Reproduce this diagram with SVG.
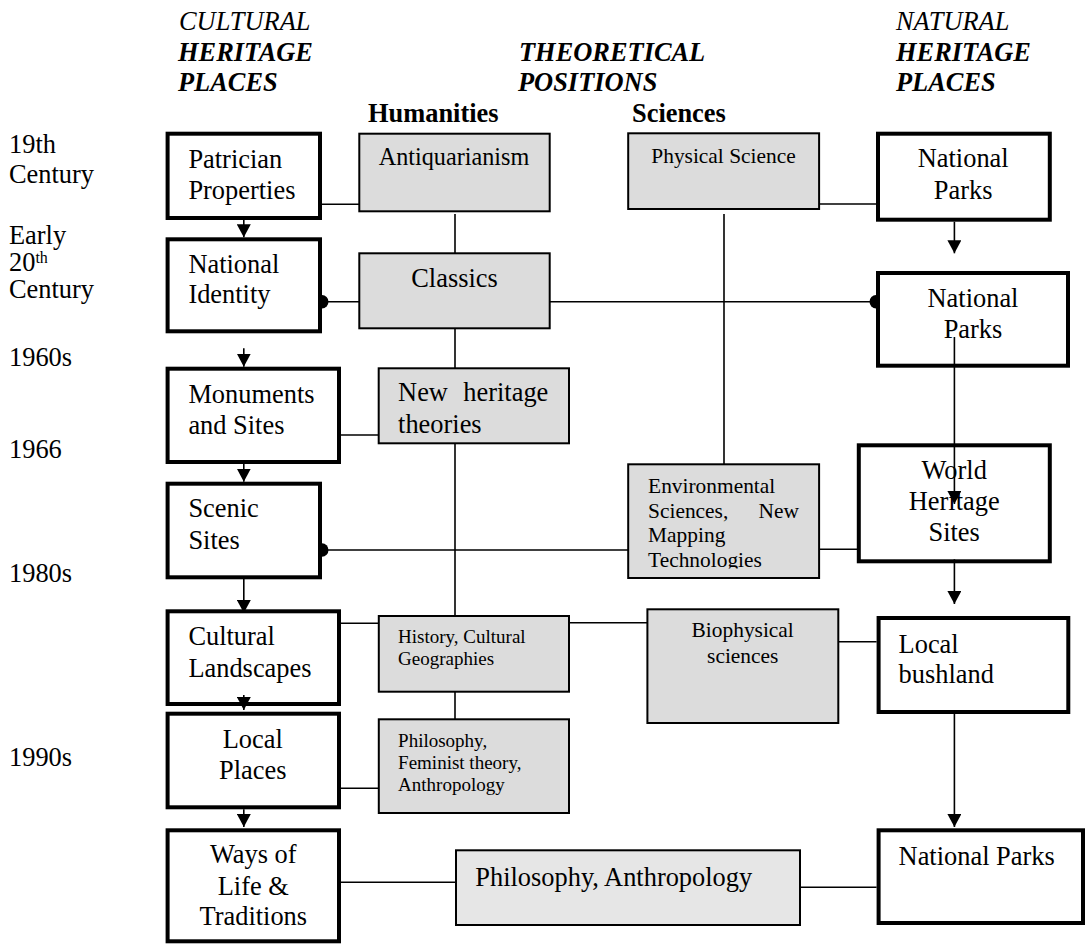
<svg xmlns="http://www.w3.org/2000/svg" width="1087" height="945" viewBox="0 0 1087 945">
<style>
text{font-family:"Liberation Serif","Times New Roman",serif;fill:#000}
.t{font-size:26.4px}
.m{font-size:24.2px}
.s{font-size:21.4px}
.xs{font-size:19px}
.hi{font-size:26.4px;font-style:italic}
.hb{font-size:26.4px;font-style:italic;font-weight:bold}
.b{font-size:26.4px;font-weight:bold}
.c{text-anchor:middle}
.e{text-anchor:end}
.pl{fill:#fff;stroke:#000;stroke-width:4}
.th{fill:#dcdcdc;stroke:#000;stroke-width:2}
.th2{fill:#e6e6e6;stroke:#000;stroke-width:2}
.ln{stroke:#000;stroke-width:1.6;fill:none}
.ar{stroke:#000;stroke-width:1.6;fill:none;marker-end:url(#ah)}
</style>
<defs>
<marker id="ah" markerWidth="14" markerHeight="14" refX="13" refY="7" orient="auto" markerUnits="userSpaceOnUse">
<path d="M0,0 L13,7 L0,14 Z" fill="#000"/>
</marker>
<clipPath id="envclip"><rect x="628" y="464" width="192" height="104.5"/></clipPath>
</defs>

<g id="headers">
<text class="hi" x="179" y="30">CULTURAL</text>
<text class="hb" x="178" y="61">HERITAGE</text>
<text class="hb" x="178" y="91">PLACES</text>
<text class="hb" x="519" y="61">THEORETICAL</text>
<text class="hb" x="518" y="91">POSITIONS</text>
<text class="hi" x="896" y="30">NATURAL</text>
<text class="hb" x="896" y="61">HERITAGE</text>
<text class="hb" x="896" y="91">PLACES</text>
<text class="b" x="368" y="122">Humanities</text>
<text class="b" x="632" y="122">Sciences</text>
</g>

<g id="timeline">
<text class="t" x="9" y="153">19th</text>
<text class="t" x="9" y="183">Century</text>
<text class="t" x="9" y="244">Early</text>
<text class="t" x="9" y="271">20<tspan font-size="16" dy="-8">th</tspan></text>
<text class="t" x="9" y="298">Century</text>
<text class="t" x="9" y="366">1960s</text>
<text class="t" x="9" y="458">1966</text>
<text class="t" x="9" y="582">1980s</text>
<text class="t" x="9" y="766">1990s</text>
</g>

<g id="patrician">
<rect class="pl" x="167.6" y="133.7" width="152.4" height="84.3"/>
<text class="t" x="188.4" y="168.3">Patrician</text>
<text class="t" x="188.4" y="199.3">Properties</text>
</g>
<g id="national-identity">
<rect class="pl" x="167.6" y="239.3" width="152.4" height="92"/>
<text class="t" x="188.4" y="273.3">National</text>
<text class="t" x="188.4" y="303.3">Identity</text>
</g>
<g id="monuments">
<rect class="pl" x="167.6" y="368.7" width="171.4" height="93.3"/>
<text class="t" x="188.4" y="403.3">Monuments</text>
<text class="t" x="188.4" y="434">and Sites</text>
</g>
<g id="scenic">
<rect class="pl" x="167.6" y="483.7" width="152.4" height="93.6"/>
<text class="t" x="188.4" y="517.3">Scenic</text>
<text class="t" x="188.4" y="549.3">Sites</text>
</g>
<g id="cultural-landscapes">
<rect class="pl" x="167.6" y="611.3" width="171.4" height="92.7"/>
<text class="t" x="188.4" y="645">Cultural</text>
<text class="t" x="188.4" y="677.3">Landscapes</text>
</g>
<g id="local-places">
<rect class="pl" x="167.6" y="713.7" width="171.4" height="93.6"/>
<text class="t c" x="252.8" y="748.3">Local</text>
<text class="t c" x="252.8" y="779.3">Places</text>
</g>
<g id="ways-of-life">
<rect class="pl" x="167.6" y="830.3" width="171.4" height="111"/>
<text class="t c" x="253.3" y="863.3">Ways of</text>
<text class="t c" x="253.3" y="895">Life &amp;</text>
<text class="t c" x="253.3" y="925">Traditions</text>
</g>

<g id="antiquarianism">
<rect class="th" x="359.3" y="133.7" width="190.4" height="77.6"/>
<text class="m c" x="454" y="165">Antiquarianism</text>
</g>
<g id="classics">
<rect class="th" x="359.3" y="253.3" width="190.4" height="75"/>
<text class="t c" x="454.5" y="286.7">Classics</text>
</g>
<g id="new-heritage">
<rect class="th" x="378.7" y="368.3" width="190.3" height="75"/>
<text class="t" x="398.1" y="400.7">New</text>
<text class="t e" x="548.3" y="400.7">heritage</text>
<text class="t" x="398.1" y="432.7">theories</text>
</g>
<g id="history">
<rect class="th" x="378.8" y="616" width="190.2" height="75.7"/>
<text class="xs" x="398.1" y="643.3">History, Cultural</text>
<text class="xs" x="398.1" y="665">Geographies</text>
</g>
<g id="philosophy-feminist">
<rect class="th" x="378.8" y="719.3" width="190.2" height="93.7"/>
<text class="xs" x="398.1" y="746.7">Philosophy,</text>
<text class="xs" x="398.1" y="769">Feminist theory,</text>
<text class="xs" x="398.1" y="790.5">Anthropology</text>
</g>
<g id="physical-science">
<rect class="th" x="628.2" y="133.3" width="190.9" height="75.7"/>
<text class="s c" x="723.5" y="163.3">Physical Science</text>
</g>
<g id="environmental">
<rect class="th" x="628.2" y="464.3" width="190.9" height="113.7"/>
<g clip-path="url(#envclip)">
<text class="s" x="648.1" y="493.3">Environmental</text>
<text class="s" x="648.1" y="518.3">Sciences,</text>
<text class="s e" x="798.9" y="518.3">New</text>
<text class="s" x="648.1" y="541.7">Mapping</text>
<text class="s" x="648.1" y="566.7">Technologies</text>
</g>
</g>
<g id="biophysical">
<rect class="th" x="647.4" y="609.3" width="190.9" height="113.7"/>
<text class="s c" x="742.7" y="637.3">Biophysical</text>
<text class="s c" x="742.7" y="662.7">sciences</text>
</g>
<g id="philosophy-anthropology">
<rect class="th2" x="456" y="850.3" width="344" height="74.7"/>
<text class="t" x="475.3" y="886">Philosophy, Anthropology</text>
</g>

<g id="national-parks-1">
<rect class="pl" x="878" y="133.7" width="171.8" height="86"/>
<text class="t c" x="963.2" y="166.7">National</text>
<text class="t c" x="963.2" y="199">Parks</text>
</g>
<g id="national-parks-2">
<rect class="pl" x="878" y="273" width="190" height="92.7"/>
<text class="t c" x="973" y="307.3">National</text>
<text class="t c" x="973" y="338.3">Parks</text>
</g>
<g id="world-heritage">
<rect class="pl" x="858.8" y="445.3" width="191" height="116"/>
<text class="t c" x="954.2" y="479">World</text>
<text class="t c" x="954.2" y="510">Heritage</text>
<text class="t c" x="954.2" y="540.7">Sites</text>
</g>
<g id="local-bushland">
<rect class="pl" x="878.6" y="618" width="189.7" height="94"/>
<text class="t" x="898.6" y="652.7">Local</text>
<text class="t" x="898.6" y="683.3">bushland</text>
</g>
<g id="national-parks-3">
<rect class="pl" x="878.6" y="830.3" width="204.4" height="92.7"/>
<text class="t" x="898.6" y="865">National Parks</text>
</g>

<g id="connectors">
<line class="ln" x1="322" y1="204.3" x2="359.3" y2="204.3"/>
<line class="ln" x1="322" y1="301.7" x2="359.3" y2="301.7"/>
<line class="ln" x1="549.7" y1="301.7" x2="876" y2="301.7"/>
<line class="ln" x1="341" y1="435" x2="378.7" y2="435"/>
<line class="ln" x1="322" y1="550" x2="628.2" y2="550"/>
<line class="ln" x1="819.1" y1="549.3" x2="857" y2="549.3"/>
<line class="ln" x1="819.1" y1="204" x2="876" y2="204"/>
<line class="ln" x1="341" y1="623.3" x2="378.8" y2="623.3"/>
<line class="ln" x1="569" y1="622.7" x2="647.4" y2="622.7"/>
<line class="ln" x1="838.3" y1="641.7" x2="876.6" y2="641.7"/>
<line class="ln" x1="341" y1="788.3" x2="378.8" y2="788.3"/>
<line class="ln" x1="341" y1="882.3" x2="456" y2="882.3"/>
<line class="ln" x1="800" y1="887.3" x2="876.6" y2="887.3"/>
<line class="ln" x1="455" y1="214" x2="455" y2="253.3"/>
<line class="ln" x1="455" y1="328.3" x2="455" y2="368.3"/>
<line class="ln" x1="455" y1="443.3" x2="455" y2="616"/>
<line class="ln" x1="455" y1="691.7" x2="455" y2="719.3"/>
<line class="ln" x1="724" y1="214" x2="724" y2="464.3"/>
<path d="M322,295 A6.5,6.7 0 0 1 322,308.4 Z" fill="#000"/>
<path d="M322,543.3 A6.5,6.7 0 0 1 322,556.7 Z" fill="#000"/>
<path d="M876,295 A6.5,6.7 0 0 0 876,308.4 Z" fill="#000"/>
<line class="ar" x1="243.8" y1="220" x2="243.8" y2="237.3"/>
<line class="ar" x1="243.8" y1="348.3" x2="243.8" y2="366.7"/>
<line class="ar" x1="243.8" y1="464" x2="243.8" y2="481.7"/>
<line class="ar" x1="243.8" y1="576.7" x2="243.8" y2="613"/>
<line class="ar" x1="243.8" y1="695" x2="243.8" y2="710"/>
<line class="ar" x1="243.8" y1="809.3" x2="243.8" y2="827"/>
<line class="ar" x1="954.4" y1="221.7" x2="954.4" y2="253.3"/>
<line class="ar" x1="954.4" y1="337" x2="954.4" y2="504"/>
<line class="ar" x1="954.4" y1="559.3" x2="954.4" y2="604"/>
<line class="ar" x1="954.4" y1="714" x2="954.4" y2="827"/>
</g>
</svg>
